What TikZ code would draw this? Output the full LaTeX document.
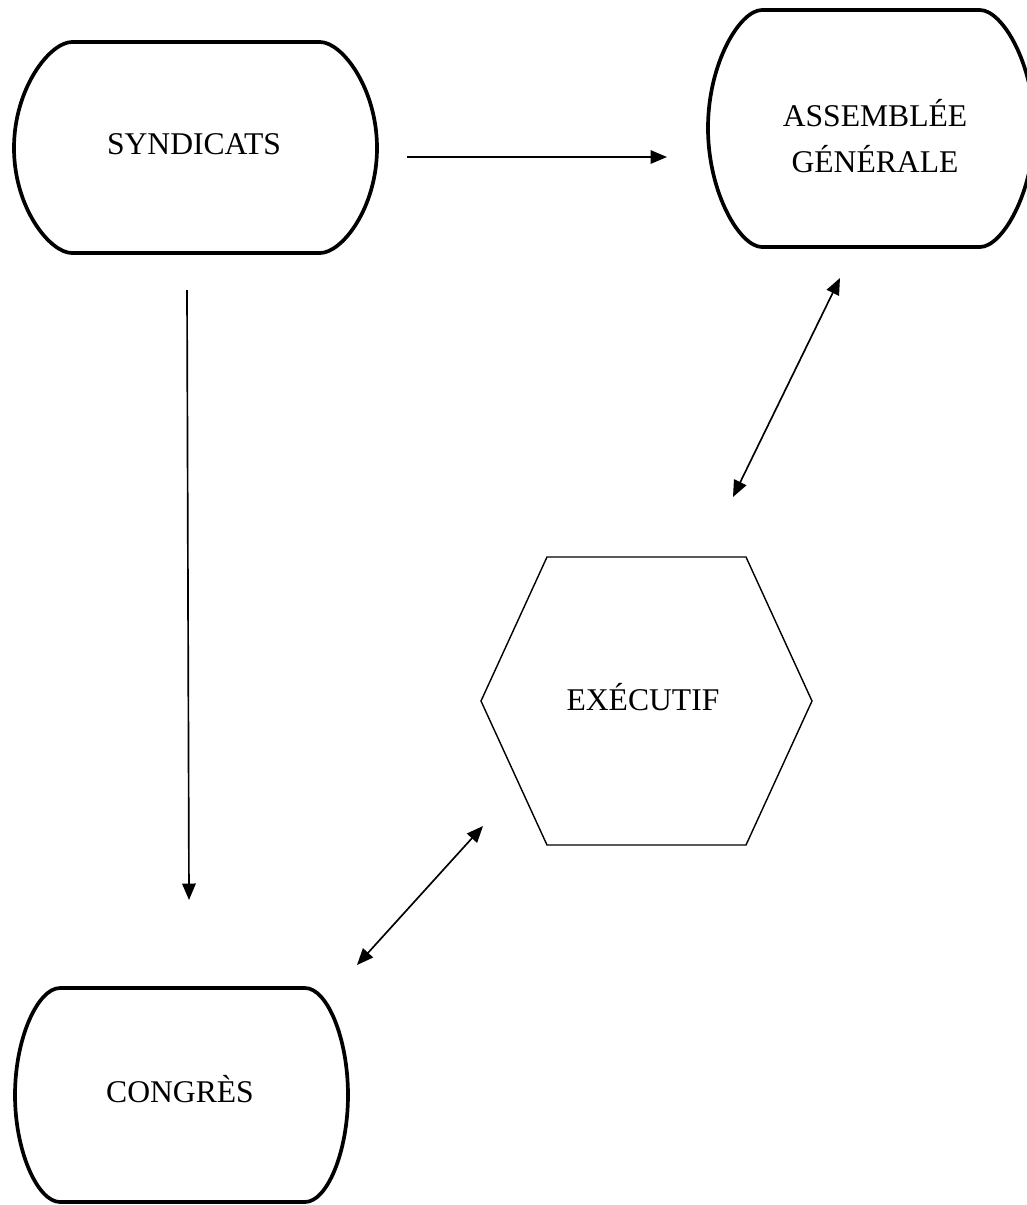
\documentclass[tikz,border=0pt]{standalone}
\usepackage{fontspec}
\setmainfont{Liberation Serif}
\usetikzlibrary{arrows.meta}

\begin{document}
\begin{tikzpicture}[x=0.02cm,y=-0.02cm,
    lbl/.style={font=\fontsize{18}{26}\selectfont,inner sep=0pt,align=center},
    boite/.style={line width=2.1pt,line join=round},
    hexa/.style={line width=0.8pt,line join=miter},
    fleche/.style={line width=0.95pt,-{Triangle[length=3.3mm,width=2.7mm]}},
    fleches/.style={line width=0.95pt,{Triangle[length=3.3mm,width=2.7mm]}-{Triangle[length=3.3mm,width=2.7mm]}}]
  \useasboundingbox (0,0) rectangle (1027,1205);
  \clip (0,0) rectangle (1027,1205);

  %cadres
  \draw[boite] (72,42) -- (320,42) .. controls (342,42) and (377,88) .. (377,148) .. controls (377,208) and (342,253) .. (320,253) -- (72,253) .. controls (50,253) and (14,208) .. (14,148) .. controls (14,88) and (50,42) .. (72,42) -- cycle;
  \draw[boite] (762,10) -- (980,10) .. controls (1002,10) and (1034,63) .. (1034,128) .. controls (1034,193) and (1002,247) .. (980,247) -- (762,247) .. controls (740,247) and (708,193) .. (708,128) .. controls (708,63) and (740,10) .. (762,10) -- cycle;
  \draw[boite] (60,988) -- (305,988) .. controls (327,988) and (348,1038) .. (348,1095) .. controls (348,1152) and (327,1202) .. (305,1202) -- (60,1202) .. controls (38,1202) and (15,1152) .. (15,1095) .. controls (15,1038) and (38,988) .. (60,988) -- cycle;
  \draw[hexa] (547,557) -- (746,557) -- (812,701) -- (746,845) -- (547,845) -- (481,701) -- cycle;

  %textes
  \node[lbl,anchor=base] (synd) at (194,154) {SYNDICATS};
  \node[lbl] (ag) at (875,136) {ASSEMBLÉE\\GÉNÉRALE};
  \node[lbl,anchor=base] (exec) at (643,710) {EXÉCUTIF};
  \node[lbl,anchor=base] (congr) at (180,1102) {CONGRÈS};

  %fleches
  \coordinate (s1) at (407,157);
  \coordinate (a1) at (667,157);
  \coordinate (s2) at (187,290);
  \coordinate (c1) at (189,900);
  \coordinate (a2) at (840,278);
  \coordinate (e1) at (733,497);
  \coordinate (e2) at (483,826);
  \coordinate (c2) at (357,965);
  \draw[fleche] (s1) -- (a1);
  \draw[fleche] (s2) -- (c1);
  \draw[fleches] (e1) -- (a2);
  \draw[fleches] (c2) -- (e2);
\end{tikzpicture}
\end{document}
